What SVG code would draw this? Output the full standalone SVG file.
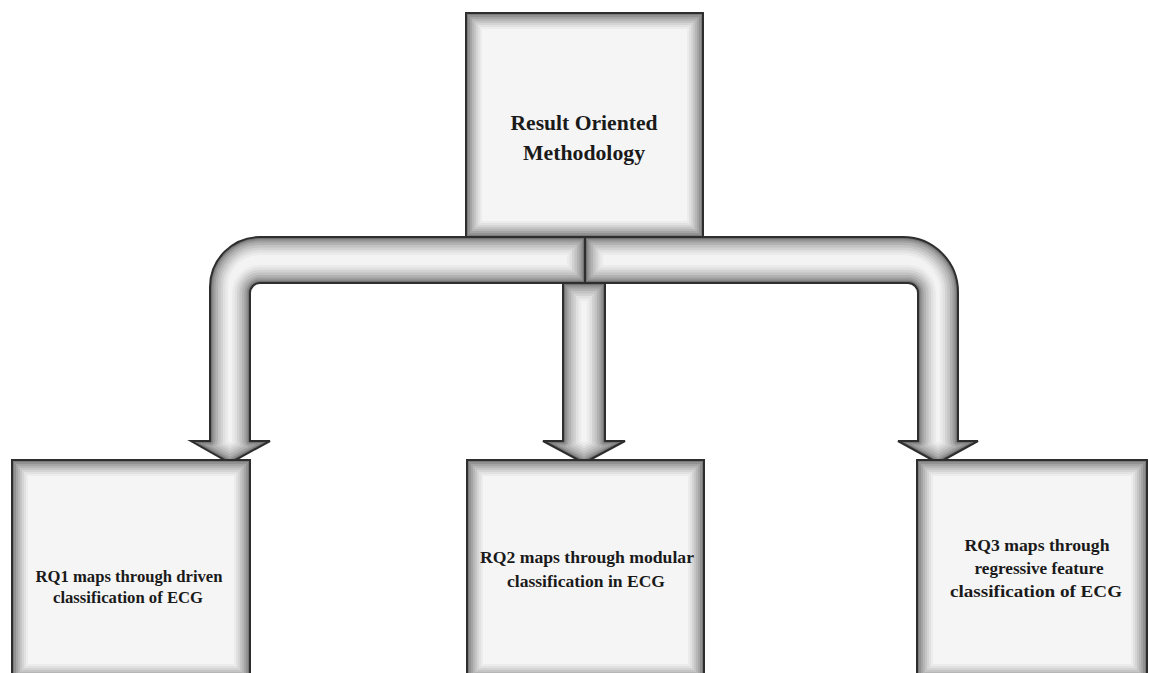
<svg xmlns="http://www.w3.org/2000/svg" width="1149" height="673" viewBox="0 0 1149 673">
<defs>
<rect id="bTop" x="466" y="13" width="237" height="224"/>
<rect id="b1" x="12" y="460" width="238" height="220"/>
<rect id="b2" x="467" y="460" width="237" height="220"/>
<rect id="b3" x="917" y="460" width="230" height="220"/>
<path id="aL" d="M585,237 L260,237 A50,50 0 0 0 210,287 L210,441 L191,441 L230,463 L270,441 L250,441 L250,293 A10,10 0 0 1 260,283 L585,283 Z"/>
<path id="aR" d="M585,237 L903,237 A55,55 0 0 1 958,292 L958,441 L978,441 L938,463 L898,441 L918,441 L918,293 A10,10 0 0 0 908,283 L585,283 Z"/>
<path id="aM" d="M563,283 L605,283 L605,441 L625,441 L584,463 L543,441 L563,441 Z"/>
<clipPath id="cTop"><use href="#bTop"/></clipPath>
<clipPath id="c1"><use href="#b1"/></clipPath>
<clipPath id="c2"><use href="#b2"/></clipPath>
<clipPath id="c3"><use href="#b3"/></clipPath>
<clipPath id="cL"><use href="#aL"/></clipPath>
<clipPath id="cR"><use href="#aR"/></clipPath>
<clipPath id="cM"><use href="#aM"/></clipPath>
</defs>
<style>
.fill{fill:#f5f5f5;stroke:none}
.afill{fill:#f3f3f3;stroke:none}
.s{fill:none;stroke:#000;stroke-linejoin:round}
.s1{stroke-width:32;stroke-opacity:.035}
.s2{stroke-width:28;stroke-opacity:.045}
.s3{stroke-width:24;stroke-opacity:.055}
.s4{stroke-width:20;stroke-opacity:.065}
.s5{stroke-width:16;stroke-opacity:.075}
.s6{stroke-width:12;stroke-opacity:.09}
.s7{stroke-width:8;stroke-opacity:.11}
.s8{stroke-width:4;stroke-opacity:.16}
.a1{stroke-width:36;stroke-opacity:.03}
.a2{stroke-width:31;stroke-opacity:.045}
.a3{stroke-width:26;stroke-opacity:.06}
.a4{stroke-width:21;stroke-opacity:.07}
.a5{stroke-width:16;stroke-opacity:.085}
.a6{stroke-width:11;stroke-opacity:.1}
.a7{stroke-width:7;stroke-opacity:.13}
.a8{stroke-width:4;stroke-opacity:.17}
.edge{fill:none;stroke:#2e2e2e;stroke-width:2;stroke-linejoin:miter}
.t{font-family:"Liberation Serif","Times New Roman",serif;font-weight:bold;fill:#1a1a1a;text-anchor:middle}
</style>
<rect width="1149" height="673" fill="#fff"/>
<g id="top">
<use href="#bTop" class="fill"/>
<g clip-path="url(#cTop)"><use href="#bTop" class="s s1"/><use href="#bTop" class="s s2"/><use href="#bTop" class="s s3"/><use href="#bTop" class="s s4"/><use href="#bTop" class="s s5"/><use href="#bTop" class="s s6"/><use href="#bTop" class="s s7"/><use href="#bTop" class="s s8"/></g>
<use href="#bTop" class="edge"/>
<text class="t" x="584" y="130" font-size="20" textLength="147" lengthAdjust="spacingAndGlyphs">Result Oriented</text>
<text class="t" x="584" y="160" font-size="20" textLength="122" lengthAdjust="spacingAndGlyphs">Methodology</text>
</g>
<g id="connectors">
<g id="arrow-left">
<use href="#aL" class="afill"/>
<g clip-path="url(#cL)"><use href="#aL" class="s a1"/><use href="#aL" class="s a2"/><use href="#aL" class="s a3"/><use href="#aL" class="s a4"/><use href="#aL" class="s a5"/><use href="#aL" class="s a6"/><use href="#aL" class="s a7"/><use href="#aL" class="s a8"/></g>
<use href="#aL" class="edge"/>
</g>
<g id="arrow-right">
<use href="#aR" class="afill"/>
<g clip-path="url(#cR)"><use href="#aR" class="s a1"/><use href="#aR" class="s a2"/><use href="#aR" class="s a3"/><use href="#aR" class="s a4"/><use href="#aR" class="s a5"/><use href="#aR" class="s a6"/><use href="#aR" class="s a7"/><use href="#aR" class="s a8"/></g>
<use href="#aR" class="edge"/>
</g>
<g id="arrow-mid">
<use href="#aM" class="afill"/>
<g clip-path="url(#cM)"><use href="#aM" class="s a1"/><use href="#aM" class="s a2"/><use href="#aM" class="s a3"/><use href="#aM" class="s a4"/><use href="#aM" class="s a5"/><use href="#aM" class="s a6"/><use href="#aM" class="s a7"/><use href="#aM" class="s a8"/></g>
<use href="#aM" class="edge"/>
</g>
</g>
<g id="rq1">
<use href="#b1" class="fill"/>
<g clip-path="url(#c1)"><use href="#b1" class="s s1"/><use href="#b1" class="s s2"/><use href="#b1" class="s s3"/><use href="#b1" class="s s4"/><use href="#b1" class="s s5"/><use href="#b1" class="s s6"/><use href="#b1" class="s s7"/><use href="#b1" class="s s8"/></g>
<use href="#b1" class="edge"/>
<text class="t" x="129" y="582" font-size="16" textLength="187" lengthAdjust="spacingAndGlyphs">RQ1 maps through driven</text>
<text class="t" x="128" y="603" font-size="16" textLength="150" lengthAdjust="spacingAndGlyphs">classification of ECG</text>
</g>
<g id="rq2">
<use href="#b2" class="fill"/>
<g clip-path="url(#c2)"><use href="#b2" class="s s1"/><use href="#b2" class="s s2"/><use href="#b2" class="s s3"/><use href="#b2" class="s s4"/><use href="#b2" class="s s5"/><use href="#b2" class="s s6"/><use href="#b2" class="s s7"/><use href="#b2" class="s s8"/></g>
<use href="#b2" class="edge"/>
<text class="t" x="587" y="563" font-size="16" textLength="214" lengthAdjust="spacingAndGlyphs">RQ2 maps through modular</text>
<text class="t" x="586" y="587" font-size="16" textLength="158" lengthAdjust="spacingAndGlyphs">classification in ECG</text>
</g>
<g id="rq3">
<use href="#b3" class="fill"/>
<g clip-path="url(#c3)"><use href="#b3" class="s s1"/><use href="#b3" class="s s2"/><use href="#b3" class="s s3"/><use href="#b3" class="s s4"/><use href="#b3" class="s s5"/><use href="#b3" class="s s6"/><use href="#b3" class="s s7"/><use href="#b3" class="s s8"/></g>
<use href="#b3" class="edge"/>
<text class="t" x="1037" y="551" font-size="17" textLength="145" lengthAdjust="spacingAndGlyphs">RQ3 maps through</text>
<text class="t" x="1039" y="574" font-size="17" textLength="129" lengthAdjust="spacingAndGlyphs">regressive feature</text>
<text class="t" x="1036" y="597" font-size="17" textLength="172" lengthAdjust="spacingAndGlyphs">classification of ECG</text>
</g>
</svg>
